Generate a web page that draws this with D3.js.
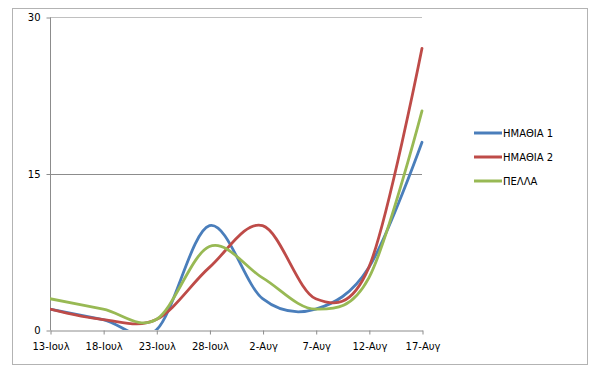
<!DOCTYPE html>
<html>
<head>
<meta charset="utf-8">
<script src="https://cdn.jsdelivr.net/npm/d3@7.9.0/dist/d3.min.js"></script>
<style>
  body { margin: 0; background: #fff; }
  svg text { font-family: "DejaVu Sans", sans-serif; font-size: 10px; fill: #000; }
</style>
</head>
<body>
<svg id="chart" width="600" height="372"></svg>
<script>
const dates = ['13-Ιουλ', '18-Ιουλ', '23-Ιουλ', '28-Ιουλ', '2-Αυγ', '7-Αυγ', '12-Αυγ', '17-Αυγ'];
const imathia1 = [2, 1, 0, 10, 3, 2, 6, 18];
const imathia2 = [2, 1, 1, 6, 10, 3, 6, 27];
const pella = [3, 2, 1, 8, 5, 2, 5, 21];
const yTicks = [0, 15, 30];

const series = [
  { name: 'ΗΜΑΘΙΑ 1', values: imathia1, color: '#4a7ebb' },
  { name: 'ΗΜΑΘΙΑ 2', values: imathia2, color: '#be4b48' },
  { name: 'ΠΕΛΛΑ', values: pella, color: '#98b954' }
];

const svg = d3.select('#chart');
const plotLeft = 50, plotRight = 422, plotTop = 17, plotBottom = 330;

// outer chart frame
svg.append('rect')
  .attr('x', 12.5).attr('y', 8.5)
  .attr('width', 575).attr('height', 356)
  .attr('fill', 'none').attr('stroke', '#b3b3b3');

const x = d3.scalePoint().domain(dates).range([plotLeft, plotRight]);
const y = d3.scaleLinear().domain([0, 30]).range([plotBottom, plotTop]);

// gridlines
svg.append('g')
  .selectAll('line')
  .data(yTicks.filter((d) => d > 0))
  .join('line')
  .attr('x1', plotLeft).attr('x2', plotRight)
  .attr('y1', (d) => Math.round(y(d)) + 0.5)
  .attr('y2', (d) => Math.round(y(d)) + 0.5)
  .attr('stroke', (d) => d === 30 ? '#c0c0c0' : '#8c8c8c');

// y axis
const yAxis = svg.append('g')
  .attr('transform', `translate(${plotLeft + 0.5},0.5)`)
  .call(d3.axisLeft(y).tickValues(yTicks).tickSize(4).tickPadding(6));
yAxis.selectAll('path, line').attr('stroke', '#8c8c8c');
yAxis.select('.domain').attr('d', `M0,${plotTop}V${plotBottom}`);

// x axis
const xAxis = svg.append('g')
  .attr('transform', `translate(0.5,${plotBottom + 0.5})`)
  .call(d3.axisBottom(x).tickSize(4).tickPadding(6).tickSizeOuter(0));
xAxis.selectAll('path, line').attr('stroke', '#8c8c8c');
xAxis.selectAll('text').attr('dy', '0.9em');
svg.selectAll('.tick text').style('font-family', '"DejaVu Sans", sans-serif').style('font-size', '10px').attr('fill', '#000');

// clip to plot area
svg.append('clipPath').attr('id', 'plot')
  .append('rect')
  .attr('x', plotLeft).attr('y', plotTop - 5)
  .attr('width', plotRight - plotLeft + 5).attr('height', plotBottom - plotTop + 5);

const line = d3.line()
  .x((d, i) => x(dates[i]))
  .y((d) => y(d))
  .curve(d3.curveCatmullRom.alpha(0));

svg.append('g')
  .attr('clip-path', 'url(#plot)')
  .selectAll('path')
  .data(series)
  .join('path')
  .attr('d', (d) => line(d.values))
  .attr('fill', 'none')
  .attr('stroke', (d) => d.color)
  .attr('stroke-width', 2.8)
  .attr('stroke-linecap', 'round');

// legend
const legend = svg.append('g');
series.forEach((s, i) => {
  const ly = 133 + i * 24;
  legend.append('line')
    .attr('x1', 474).attr('x2', 502)
    .attr('y1', ly).attr('y2', ly)
    .attr('stroke', s.color).attr('stroke-width', 3);
  legend.append('text')
    .attr('x', 503).attr('y', ly)
    .attr('dy', '0.35em')
    .text(s.name);
});
</script>
</body>
</html>
